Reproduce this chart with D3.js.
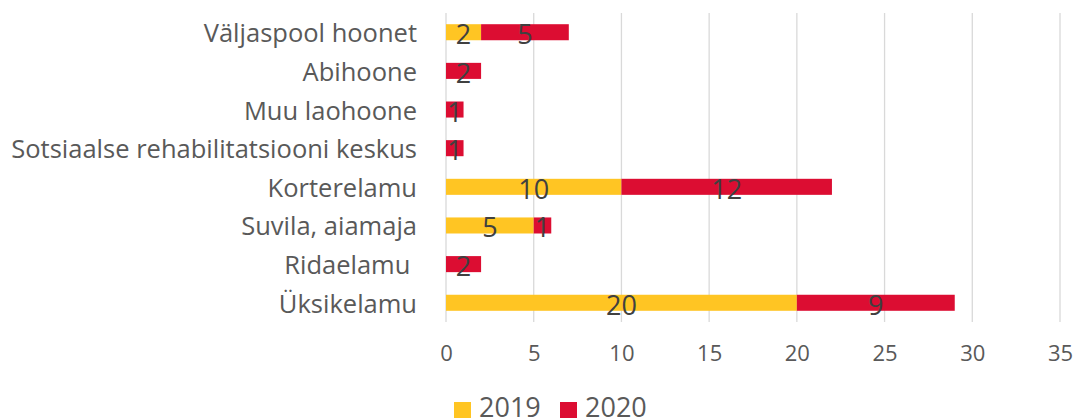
<!DOCTYPE html>
<html>
<head>
<meta charset="utf-8">
<script src="https://cdn.jsdelivr.net/npm/d3@7"></script>
<style>
  body { margin: 0; background: white; }
  svg { display: block; font-family: "Open Sans", sans-serif; }
</style>
</head>
<body>
<div id="chart"></div>
<script>
// Categories top to bottom
const categories = [
    "Väljaspool hoonet",
    "Abihoone",
    "Muu laohoone",
    "Sotsiaalse rehabilitatsiooni keskus",
    "Korterelamu",
    "Suvila, aiamaja",
    "Ridaelamu ",
    "Üksikelamu"
];
const values2019 = [2, 0, 0, 0, 10, 5, 0, 20];
const values2020 = [5, 2, 1, 1, 12, 1, 2, 9];
const seriesNames = ["2019", "2020"];
const xTicks = [0, 5, 10, 15, 20, 25, 30, 35];

const colors = { "2019": "#FFC523", "2020": "#DC0D32" };

const width = 1075, height = 419;
const margin = { top: 13, left: 446, right: 15, bottom: 97 };

const svg = d3.select("#chart")
    .append("svg")
    .attr("width", width)
    .attr("height", height);

const x = d3.scaleLinear().domain([0, 35]).range([margin.left, margin.left + 614]);
const y = d3.scaleBand().domain(categories).range([margin.top, height - margin.bottom]).paddingInner(0.585).paddingOuter(0.29);

// gridlines
svg.append("g")
    .selectAll("line")
    .data(xTicks)
    .enter()
    .append("line")
    .attr("x1", d => x(d))
    .attr("x2", d => x(d))
    .attr("y1", margin.top)
    .attr("y2", height - margin.bottom)
    .attr("stroke", "#d9d9d9")
    .attr("stroke-width", 1.3);

// tick labels
const xAxis = svg.append("g")
    .attr("transform", `translate(0, 361)`)
    .call(d3.axisBottom(x).tickValues(xTicks).tickSize(0).tickPadding(0));
xAxis.select(".domain").remove();
xAxis.selectAll("text")
    .attr("dy", 0)
    .style("font-family", "Open Sans")
    .style("font-size", "22px")
    .attr("fill", "#595959");

// stacked data
const rows = categories.map((c, i) => ({ cat: c, "2019": values2019[i], "2020": values2020[i] }));
const stack = d3.stack().keys(seriesNames)(rows);

const layers = svg.append("g")
    .selectAll("g")
    .data(stack)
    .enter()
    .append("g")
    .attr("fill", d => colors[d.key]);

layers.selectAll("rect")
    .data(d => d)
    .enter()
    .append("rect")
    .attr("x", d => x(d[0]))
    .attr("width", d => x(d[1]) - x(d[0]))
    .attr("y", d => y(d.data.cat))
    .attr("height", y.bandwidth());

// value labels
layers.selectAll("text")
    .data(d => d.filter(s => s[1] - s[0] > 0))
    .enter()
    .append("text")
    .attr("x", d => (x(d[0]) + x(d[1])) / 2)
    .attr("y", d => y(d.data.cat) + y.bandwidth() / 2 + 12)
    .attr("text-anchor", "middle")
    .attr("fill", "#404040")
    .style("font-size", "27px")
    .text(d => d[1] - d[0]);

// category labels (keep trailing spaces as in source)
svg.append("g")
    .selectAll("text")
    .data(categories)
    .enter()
    .append("text")
    .attr("x", 417)
    .attr("y", d => y(d) + y.bandwidth() / 2 + 10)
    .attr("text-anchor", "end")
    .attr("fill", "#595959")
    .style("font-size", "25.5px")
    .style("white-space", "pre")
    .text(d => d);

// legend
const legend = svg.append("g")
    .selectAll("g")
    .data(seriesNames)
    .enter()
    .append("g")
    .attr("transform", (d, i) => `translate(${454 + i * 106}, 402)`);

legend.append("rect")
    .attr("width", 17)
    .attr("height", 16)
    .attr("fill", d => colors[d]);

legend.append("text")
    .attr("x", 25)
    .attr("y", 15)
    .attr("fill", "#595959")
    .style("font-size", "27px")
    .text(d => d);
</script>
</body>
</html>
